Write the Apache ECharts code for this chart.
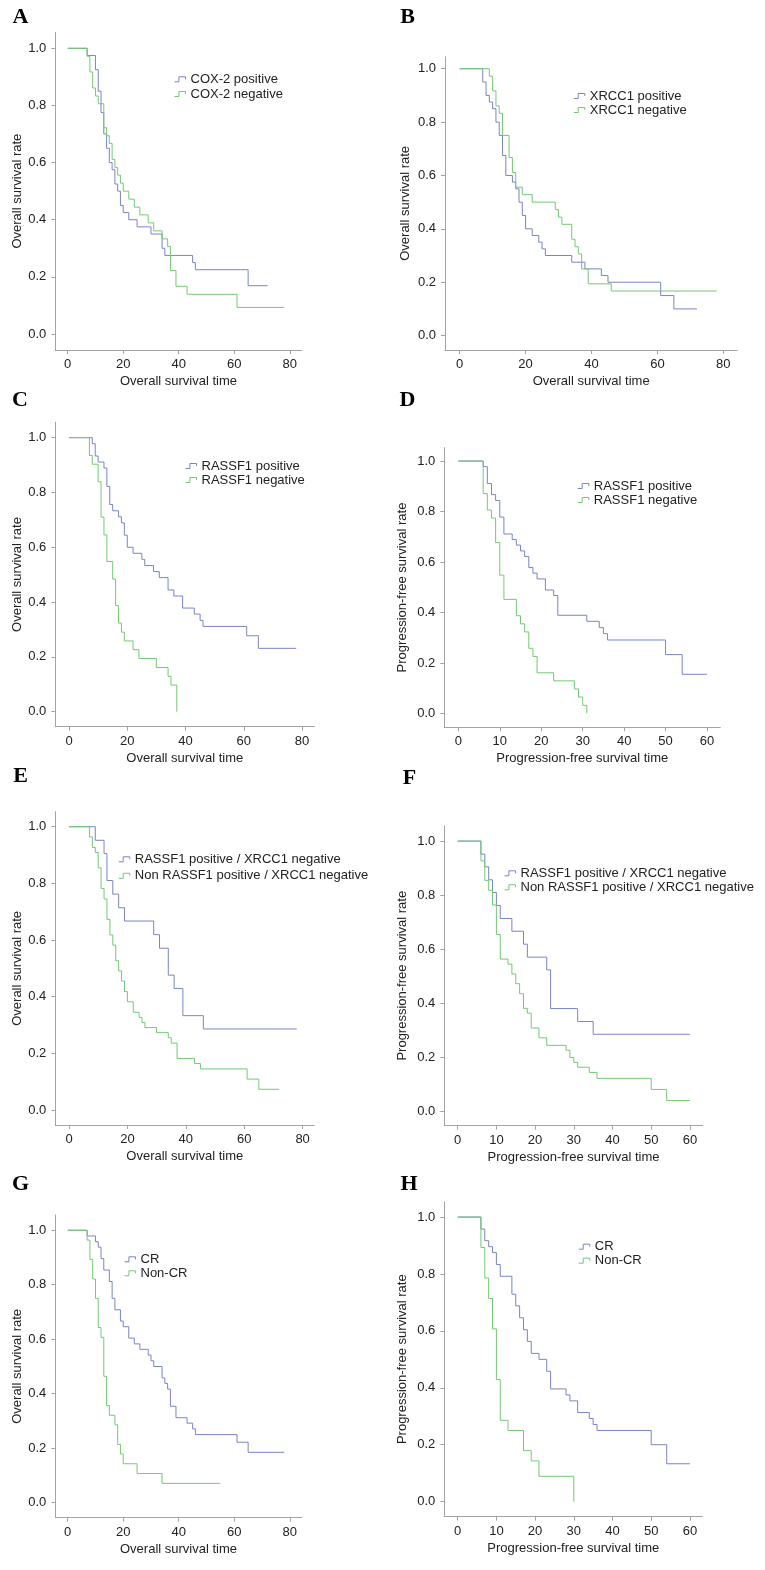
<!DOCTYPE html>
<html><head><meta charset="utf-8">
<script src="https://cdn.jsdelivr.net/npm/echarts@6/dist/echarts.min.js"></script>
<style>html,body{margin:0;padding:0;background:#fff}#c{width:765px;height:1570px}</style>
</head><body><div id="c"></div>
<script>
// ---------- tick labels ----------
const xTicks80 = [0, 20, 40, 60, 80];
const xTicks60 = [0, 10, 20, 30, 40, 50, 60];
const yTicks = [0, 0.2, 0.4, 0.6, 0.8, 1.0];

// ---------- data: [time, survival] ----------
const A_cox2_pos = [[0,1],[7,0.975],[10,0.925],[11,0.85],[12,0.775],[13,0.70],[14,0.65],[15,0.60],[16,0.575],[17,0.525],[18,0.50],[19,0.45],[20,0.425],[22,0.40],[25,0.375],[30,0.35],[34,0.30],[35,0.275],[45,0.25],[46,0.225],[65,0.169],[72,0.169]];
const A_cox2_neg = [[0,1],[7,0.972],[8,0.917],[9,0.861],[10,0.833],[11,0.806],[13,0.722],[14,0.694],[15,0.667],[16,0.611],[17,0.583],[18,0.556],[19,0.528],[20,0.50],[22,0.472],[24,0.444],[26,0.417],[29,0.389],[31,0.361],[34,0.333],[36,0.306],[37,0.222],[39,0.167],[43,0.139],[61,0.093],[78,0.093]];

const B_xrcc1_pos = [[0,1],[7,0.95],[8,0.90],[9,0.875],[10,0.85],[11,0.80],[12,0.75],[13,0.675],[14,0.60],[16,0.575],[17,0.55],[18,0.50],[19,0.45],[20,0.40],[22,0.375],[24,0.35],[25,0.325],[26,0.30],[34,0.275],[38,0.25],[43,0.225],[45,0.20],[61,0.15],[65,0.10],[72,0.10]];
const B_xrcc1_neg = [[0,1],[9,0.972],[10,0.917],[11,0.861],[12,0.833],[13,0.75],[15,0.667],[16,0.611],[17,0.556],[19,0.528],[22,0.50],[29,0.472],[30,0.444],[31,0.417],[34,0.361],[35,0.333],[36,0.306],[37,0.25],[39,0.194],[46,0.167],[78,0.167]];

const C_rassf1_pos = [[0,1],[8,0.978],[9,0.933],[10,0.911],[12,0.889],[13,0.822],[14,0.756],[15,0.733],[17,0.711],[18,0.689],[19,0.644],[20,0.60],[22,0.578],[25,0.556],[26,0.533],[29,0.511],[31,0.489],[34,0.444],[36,0.422],[39,0.378],[43,0.356],[45,0.333],[46,0.311],[61,0.277],[65,0.231],[78,0.231]];
const C_rassf1_neg = [[0,1],[7,0.935],[8,0.903],[10,0.839],[11,0.710],[12,0.645],[13,0.548],[15,0.484],[16,0.387],[17,0.323],[18,0.290],[19,0.258],[22,0.226],[24,0.194],[30,0.161],[34,0.129],[35,0.097],[37,0]];

const D_rassf1_pos = [[0,1],[6,0.978],[7,0.911],[8,0.867],[9,0.844],[10,0.778],[11,0.711],[13,0.689],[14,0.667],[15,0.644],[16,0.622],[17,0.578],[18,0.556],[19,0.533],[21,0.489],[23,0.467],[24,0.389],[31,0.365],[34,0.34],[35,0.316],[36,0.291],[50,0.233],[54,0.155],[60,0.155]];
const D_rassf1_neg = [[0,1],[6,0.871],[7,0.806],[8,0.774],[9,0.677],[10,0.548],[11,0.452],[14,0.387],[15,0.355],[16,0.323],[17,0.258],[18,0.226],[19,0.161],[23,0.129],[28,0.097],[29,0.065],[30,0.032],[31,0]];

const E_combo_pos = [[0,1],[9,0.952],[12,0.905],[13,0.810],[15,0.762],[17,0.714],[19,0.667],[29,0.619],[31,0.571],[34,0.476],[36,0.429],[39,0.333],[46,0.286],[78,0.286]];
const E_combo_non = [[0,1],[7,0.964],[8,0.927],[9,0.909],[10,0.855],[11,0.782],[12,0.745],[13,0.673],[14,0.618],[15,0.582],[16,0.527],[17,0.491],[18,0.455],[19,0.418],[20,0.382],[22,0.345],[24,0.327],[25,0.309],[26,0.291],[30,0.273],[34,0.255],[35,0.236],[37,0.182],[43,0.164],[45,0.145],[61,0.109],[65,0.073],[72,0.073]];

const F_combo_pos = [[0,1],[6,0.952],[7,0.905],[8,0.857],[9,0.810],[10,0.762],[11,0.714],[14,0.667],[17,0.619],[18,0.571],[23,0.524],[24,0.381],[31,0.333],[35,0.286],[60,0.286]];
const F_combo_non = [[0,1],[6,0.927],[7,0.855],[8,0.818],[9,0.764],[10,0.655],[11,0.564],[13,0.545],[14,0.509],[15,0.473],[16,0.436],[17,0.382],[18,0.364],[19,0.309],[21,0.273],[23,0.245],[28,0.227],[29,0.20],[30,0.182],[31,0.164],[34,0.145],[36,0.123],[50,0.082],[54,0.041],[60,0.041]];

const G_cr = [[0,1],[7,0.979],[10,0.958],[11,0.938],[12,0.896],[13,0.854],[15,0.812],[16,0.75],[17,0.708],[19,0.667],[20,0.646],[22,0.604],[24,0.583],[26,0.563],[29,0.542],[30,0.521],[31,0.50],[34,0.458],[35,0.438],[36,0.417],[37,0.354],[39,0.312],[43,0.292],[45,0.271],[46,0.25],[61,0.222],[65,0.185],[78,0.185]];
const G_noncr = [[0,1],[7,0.964],[8,0.893],[9,0.821],[10,0.75],[11,0.643],[12,0.607],[13,0.464],[14,0.357],[15,0.321],[17,0.286],[18,0.214],[19,0.179],[20,0.143],[25,0.107],[34,0.071],[55,0.071]];

const H_cr = [[0,1],[6,0.958],[7,0.917],[8,0.896],[9,0.875],[10,0.833],[11,0.792],[14,0.729],[15,0.688],[16,0.646],[17,0.604],[18,0.563],[19,0.521],[21,0.50],[23,0.458],[24,0.396],[28,0.375],[29,0.354],[31,0.313],[34,0.292],[35,0.271],[36,0.25],[50,0.20],[54,0.133],[60,0.133]];
const H_noncr = [[0,1],[6,0.893],[7,0.786],[8,0.714],[9,0.607],[10,0.429],[11,0.286],[13,0.25],[17,0.179],[19,0.143],[21,0.089],[30,0.089],[30,0]];

// ---------- style ----------
const BLUE = '#7a84c6';
const GREEN = '#74c974';
const AXIS = '#a3a3a3';
const TXT = '#222222';
const FONT = '"Liberation Sans", Arial, sans-serif';
const OS_T = 'Overall survival time', OS_R = 'Overall survival rate';
const PF_T = 'Progression-free survival time', PF_R = 'Progression-free survival rate';

// ---------- panel layout ----------
const panels = [
  {L:'A', lp:[20.5,17.5], box:[55.3,32.3,246.4,317.7], x:[-4.47,84.3], y:[-0.056,1.056], ticks:xTicks80, xn:OS_T, yn:OS_R, yg:31.5, lg:[174,72.3,0.7],
   s:[['COX-2 positive',A_cox2_pos,BLUE],['COX-2 negative',A_cox2_neg,GREEN]]},
  {L:'B', lp:[407.7,17], box:[445,56.7,292.3,293.3], x:[-4.46,84.25], y:[-0.054,1.045], ticks:xTicks80, xn:OS_T, yn:OS_R, yg:33, lg:[573.3,89,0],
   s:[['XRCC1 positive',B_xrcc1_pos,BLUE],['XRCC1 negative',B_xrcc1_neg,GREEN]]},
  {L:'C', lp:[20,400], box:[55.3,422.3,259,304.4], x:[-4.7,84.2], y:[-0.055,1.056], ticks:xTicks80, xn:OS_T, yn:OS_R, yg:31.5, lg:[185,459,0],
   s:[['RASSF1 positive',C_rassf1_pos,BLUE],['RASSF1 negative',C_rassf1_neg,GREEN]]},
  {L:'D', lp:[407.5,400], box:[444.3,447.7,276,279.6], x:[-3.38,63.2], y:[-0.055,1.053], ticks:xTicks60, xn:PF_T, yn:PF_R, yg:35, lg:[577.3,479,0],
   s:[['RASSF1 positive',D_rassf1_pos,BLUE],['RASSF1 negative',D_rassf1_neg,GREEN]]},
  {L:'E', lp:[20.5,776.5], box:[55.3,811.7,259,313.3], x:[-4.69,84.0], y:[-0.053,1.053], ticks:xTicks80, xn:OS_T, yn:OS_R, yg:31.5, lg:[118.3,852.3,2.5],
   s:[['RASSF1 positive / XRCC1 negative',E_combo_pos,BLUE],['Non RASSF1 positive / XRCC1 negative',E_combo_non,GREEN]]},
  {L:'F', lp:[409.5,778], box:[444.3,825.7,258.4,300], x:[-3.46,63.3], y:[-0.052,1.057], ticks:xTicks60, xn:PF_T, yn:PF_R, yg:35, lg:[504,866.3,0],
   s:[['RASSF1 positive / XRCC1 negative',F_combo_pos,BLUE],['Non RASSF1 positive / XRCC1 negative',F_combo_non,GREEN]]},
  {L:'G', lp:[20.5,1184.5], box:[55.3,1215,246.4,302.7], x:[-4.47,84.3], y:[-0.055,1.056], ticks:xTicks80, xn:OS_T, yn:OS_R, yg:31.5, lg:[124,1252.3,0],
   s:[['CR',G_cr,BLUE],['Non-CR',G_noncr,GREEN]]},
  {L:'H', lp:[409,1184.5], box:[444.3,1201.7,258,315], x:[-3.46,63.2], y:[-0.053,1.054], ticks:xTicks60, xn:PF_T, yn:PF_R, yg:35, lg:[578.3,1239.7,0],
   s:[['CR',H_cr,BLUE],['Non-CR',H_noncr,GREEN]]}
];

const STEP_ICON = 'path://M0,6L4,6L4,0L10,0L10,3';

const grid = [], xAxis = [], yAxis = [], series = [], legend = [], graphic = [];
panels.forEach((p, i) => {
  grid.push({left:p.box[0], top:p.box[1], width:p.box[2], height:p.box[3], outerBoundsMode:'none', containLabel:false});
  xAxis.push({
    type:'value', gridIndex:i, min:p.x[0], max:p.x[1],
    axisLine:{show:true, onZero:false, lineStyle:{color:AXIS, width:1}},
    axisTick:{show:true, length:4, customValues:p.ticks, lineStyle:{color:AXIS, width:1}},
    axisLabel:{customValues:p.ticks, margin:8, color:TXT, fontSize:13, fontFamily:FONT},
    splitLine:{show:false},
    name:p.xn, nameLocation:'middle', nameGap:25, nameMoveOverlap:false,
    nameTextStyle:{color:TXT, fontSize:13, fontFamily:FONT}
  });
  yAxis.push({
    type:'value', gridIndex:i, min:p.y[0], max:p.y[1],
    axisLine:{show:true, onZero:false, lineStyle:{color:AXIS, width:1}},
    axisTick:{show:true, length:4, customValues:yTicks, lineStyle:{color:AXIS, width:1}},
    axisLabel:{customValues:yTicks, margin:9, color:TXT, fontSize:13, fontFamily:FONT, formatter:v => v.toFixed(1)},
    splitLine:{show:false},
    name:p.yn, nameLocation:'middle', nameGap:p.yg, nameMoveOverlap:false,
    nameTextStyle:{color:TXT, fontSize:13, fontFamily:FONT}
  });
  p.s.forEach(([name, data, color]) => {
    series.push({type:'line', name, xAxisIndex:i, yAxisIndex:i, data, step:'end',
      showSymbol:false, symbol:'none', silent:true,
      lineStyle:{color, width:1}, itemStyle:{color}});
  });
  legend.push({
    orient:'vertical', left:p.lg[0], top:p.lg[1], itemGap:p.lg[2], padding:0,
    itemWidth:11, itemHeight:5, symbolKeepAspect:false, selectedMode:false,
    textStyle:{color:TXT, fontSize:13, fontFamily:FONT, lineHeight:14},
    data:p.s.map(([name, , color]) => ({name, icon:STEP_ICON,
      itemStyle:{color:'transparent', borderColor:color, borderWidth:1}}))
  });
  graphic.push({type:'text', x:p.lp[0], y:p.lp[1], silent:true,
    style:{text:p.L, font:'bold 22px "Liberation Serif", "Times New Roman", serif', fill:'#000', align:'center', verticalAlign:'middle'}});
});

const chart = echarts.init(document.getElementById('c'), null, {renderer:'canvas'});
chart.setOption({animation:false, backgroundColor:'#fff', grid, xAxis, yAxis, series, legend, graphic});
</script>
</body></html>
